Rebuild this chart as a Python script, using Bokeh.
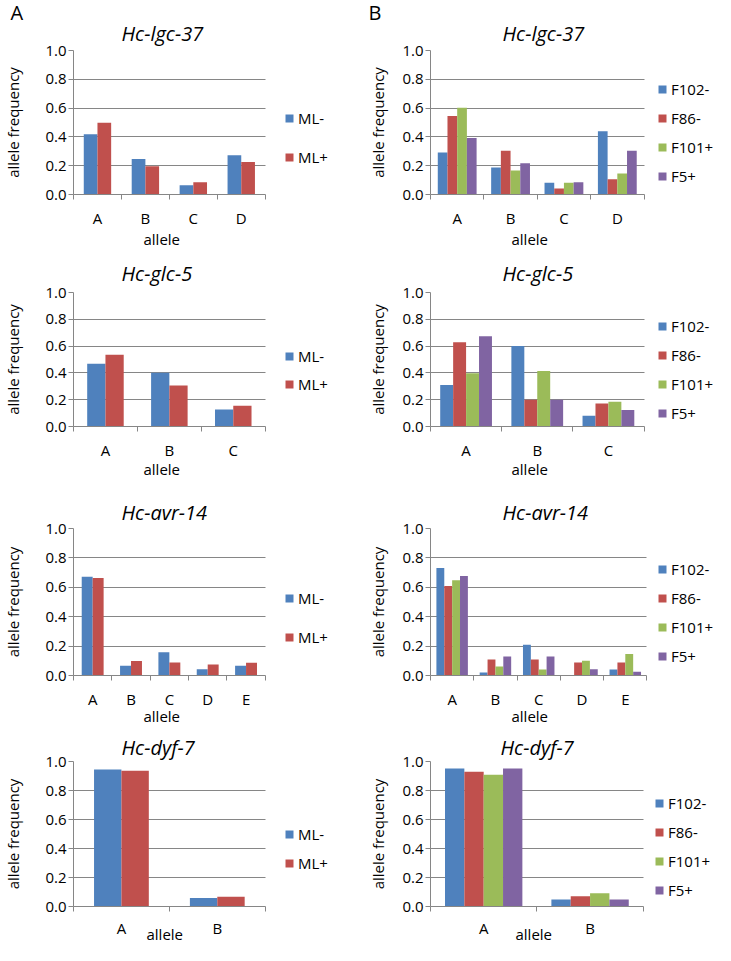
from bokeh.plotting import figure
from bokeh.models import (ColumnDataSource, FixedTicker, Legend, LegendItem, Title,
                          Range1d, PrintfTickFormatter)
from bokeh.layouts import column, row
from bokeh.embed import file_html
from bokeh.resources import INLINE

FONT = "Open Sans"
GRAY = "#868686"

# ---------------- data ----------------
lgc37_alleles = ["A", "B", "C", "D"]
glc5_alleles = ["A", "B", "C"]
avr14_alleles = ["A", "B", "C", "D", "E"]
dyf7_alleles = ["A", "B"]

ml_groups = ["ML-", "ML+"]
field_groups = ["F102-", "F86-", "F101+", "F5+"]

ml_colors = ["#4F81BD", "#C0504D"]
field_colors = ["#4F81BD", "#C0504D", "#9BBB59", "#8064A2"]

# Panel A (ML- / ML+)
lgc37_ml_minus = [0.418, 0.247, 0.065, 0.272]
lgc37_ml_plus = [0.499, 0.196, 0.085, 0.226]
glc5_ml_minus = [0.469, 0.402, 0.127]
glc5_ml_plus = [0.535, 0.306, 0.155]
avr14_ml_minus = [0.672, 0.066, 0.159, 0.043, 0.066]
avr14_ml_plus = [0.664, 0.098, 0.089, 0.075, 0.086]
dyf7_ml_minus = [0.944, 0.058]
dyf7_ml_plus = [0.937, 0.067]

# Panel B (field isolates)
lgc37_f102 = [0.291, 0.187, 0.081, 0.439]
lgc37_f86 = [0.545, 0.303, 0.042, 0.106]
lgc37_f101 = [0.603, 0.166, 0.081, 0.145]
lgc37_f5 = [0.393, 0.217, 0.085, 0.303]
glc5_f102 = [0.310, 0.600, 0.081]
glc5_f86 = [0.629, 0.199, 0.172]
glc5_f101 = [0.398, 0.415, 0.184]
glc5_f5 = [0.673, 0.199, 0.123]
avr14_f102 = [0.732, 0.020, 0.209, 0.0, 0.040]
avr14_f86 = [0.609, 0.108, 0.108, 0.088, 0.088]
avr14_f101 = [0.648, 0.061, 0.040, 0.101, 0.146]
avr14_f5 = [0.677, 0.130, 0.130, 0.043, 0.025]
dyf7_f102 = [0.952, 0.048]
dyf7_f86 = [0.930, 0.070]
dyf7_f101 = [0.908, 0.092]
dyf7_f5 = [0.952, 0.048]

y_ticks = [0.0, 0.2, 0.4, 0.6, 0.8, 1.0]


def panel(title, alleles, series, names, colors, fig_w, geom, legend_loc, legend_spacing,
          ylab_standoff, xtick_standoff, title_pos, xlab_pos, letter=None, letter_offset=0):
    # geom: left border, width of the category area, top border, frame height, bottom border
    bl, cat_w, bt, fh, bb = geom
    title_offset, title_standoff = title_pos
    xlab_offset, xlab_standoff = xlab_pos
    n_cat = len(alleles)
    n_ser = len(series)
    frame_w = fig_w - bl
    x_end = n_cat * frame_w / float(cat_w)   # extra room on the right holds the legend
    p = figure(width=fig_w, height=bt + fh + bb,
               min_border_left=bl, min_border_right=0,
               min_border_top=bt, min_border_bottom=bb,
               x_range=Range1d(0, x_end), y_range=Range1d(0, 1),
               output_backend="svg", toolbar_location=None)
    p.outline_line_color = None
    p.background_fill_color = "white"
    p.border_fill_color = "white"

    p.add_layout(Title(text=title, align="left", standoff=title_standoff,
                       offset=title_offset, text_font=FONT, text_font_size="20px",
                       text_font_style="italic", text_color="#000000"), "above")
    if letter:
        p.add_layout(Title(text=letter, align="left", offset=letter_offset, standoff=-22,
                           text_font=FONT, text_font_size="20px",
                           text_font_style="normal", text_color="#000000"), "above")

    w = 1.0 / (n_ser + 1.5)
    renderers = []
    for j, vals in enumerate(series):
        xs = [i + 0.5 + (j - (n_ser - 1) / 2.0) * w for i in range(n_cat)]
        src = ColumnDataSource(dict(x=xs, top=vals))
        r = p.vbar(x="x", top="top", bottom=0, width=w, source=src,
                   fill_color=colors[j], line_color=None)
        renderers.append(r)

    # x axis (category boundaries carry the tick marks)
    xax = p.xaxis[0]
    xax.bounds = (0, n_cat)
    xax.ticker = FixedTicker(ticks=[i + 0.5 for i in range(n_cat)],
                             minor_ticks=list(range(n_cat + 1)))
    xax.major_label_overrides = {i + 0.5: a for i, a in enumerate(alleles)}
    xax.major_tick_out = 0
    xax.major_tick_in = 0
    xax.minor_tick_out = 5
    xax.minor_tick_in = 0
    xax.minor_tick_line_color = GRAY
    xax.axis_line_color = GRAY
    xax.major_label_standoff = xtick_standoff
    xax.major_label_text_font = FONT
    xax.major_label_text_font_size = "15px"
    xax.major_label_text_color = "#000000"

    # x axis title, centred under the category area
    p.add_layout(Title(text="allele", align="left", offset=xlab_offset,
                       standoff=xlab_standoff, vertical_align="top",
                       text_font=FONT, text_font_size="15px", text_font_style="normal",
                       text_color="#000000"), "below")

    yax = p.yaxis[0]
    yax.ticker = FixedTicker(ticks=y_ticks, minor_ticks=[])
    yax.formatter = PrintfTickFormatter(format="%.1f")
    yax.major_tick_out = 5
    yax.major_tick_in = 0
    yax.major_tick_line_color = GRAY
    yax.axis_line_color = GRAY
    yax.major_label_standoff = 2
    yax.major_label_text_font = FONT
    yax.major_label_text_font_size = "15px"
    yax.major_label_text_color = "#000000"
    yax.axis_label = "allele frequency"
    yax.axis_label_standoff = ylab_standoff
    yax.axis_label_text_font = FONT
    yax.axis_label_text_font_size = "15px"
    yax.axis_label_text_font_style = "normal"
    yax.axis_label_text_color = "#000000"

    p.xgrid.visible = False
    yg = p.ygrid[0]
    yg.ticker = FixedTicker(ticks=y_ticks)
    yg.grid_line_color = GRAY
    if "cross_bounds" in yg.properties():
        yg.cross_bounds = (0, n_cat)

    # legend to the right of the bars
    items = [LegendItem(label=nm, renderers=[r]) for nm, r in zip(names, renderers)]
    leg = Legend(items=items, location=legend_loc, orientation="vertical",
                 glyph_width=10, glyph_height=10, label_standoff=4,
                 label_height=22, spacing=legend_spacing, padding=0, margin=0,
                 border_line_color=None, background_fill_alpha=0,
                 label_text_font=FONT, label_text_font_size="15px",
                 label_text_color="#000000")
    p.add_layout(leg)
    return p


WA, WB = 365, 350

a1 = panel("Hc-lgc-37", lgc37_alleles, [lgc37_ml_minus, lgc37_ml_plus], ml_groups, ml_colors,
           WA, (68, 195, 50, 144, 56), (211, 26), 17, 19, 8, (48, 7), (70, -3), "A", -63)
a2 = panel("Hc-glc-5", glc5_alleles, [glc5_ml_minus, glc5_ml_plus], ml_groups, ml_colors,
           WA, (68, 195, 42, 135, 63), (211, 31), 6, 19, 8, (48, 11), (70, -7))
a3 = panel("Hc-avr-14", avr14_alleles, [avr14_ml_minus, avr14_ml_plus], ml_groups, ml_colors,
           WA, (68, 195, 38, 147, 55), (211, 27), 17, 19, 8, (48, 5), (70, -11))
a4 = panel("Hc-dyf-7", dyf7_alleles, [dyf7_ml_minus, dyf7_ml_plus], ml_groups, ml_colors,
           WA, (68, 195, 31, 145, 39), (211, 32), 7, 19, 6, (48, 2), (73, -33))

b1 = panel("Hc-lgc-37", lgc37_alleles, [lgc37_f102, lgc37_f86, lgc37_f101, lgc37_f5],
           field_groups, field_colors, WB, (59, 218, 50, 144, 56), (227, 7), 7, 11, 8,
           (72, 7), (81, -3), "B", -62)
b2 = panel("Hc-glc-5", glc5_alleles, [glc5_f102, glc5_f86, glc5_f101, glc5_f5],
           field_groups, field_colors, WB, (59, 218, 42, 134, 64), (227, 2), 7, 11, 8,
           (72, 11), (81, -7))
b3 = panel("Hc-avr-14", avr14_alleles, [avr14_f102, avr14_f86, avr14_f101, avr14_f5],
           field_groups, field_colors, WB, (59, 221, 38, 147, 55), (227, 8), 7, 11, 8,
           (72, 5), (81, -11))
b4 = panel("Hc-dyf-7", dyf7_alleles, [dyf7_f102, dyf7_f86, dyf7_f101, dyf7_f5],
           field_groups, field_colors, WB, (62, 215, 29, 147, 39), (224, 5), 7, 11, 6,
           (70, 2), (85, -33))

layout = column(row(a1, b1), row(a2, b2), row(a3, b3), row(a4, b4))

open("out.html", "w").write(file_html(layout, INLINE))
